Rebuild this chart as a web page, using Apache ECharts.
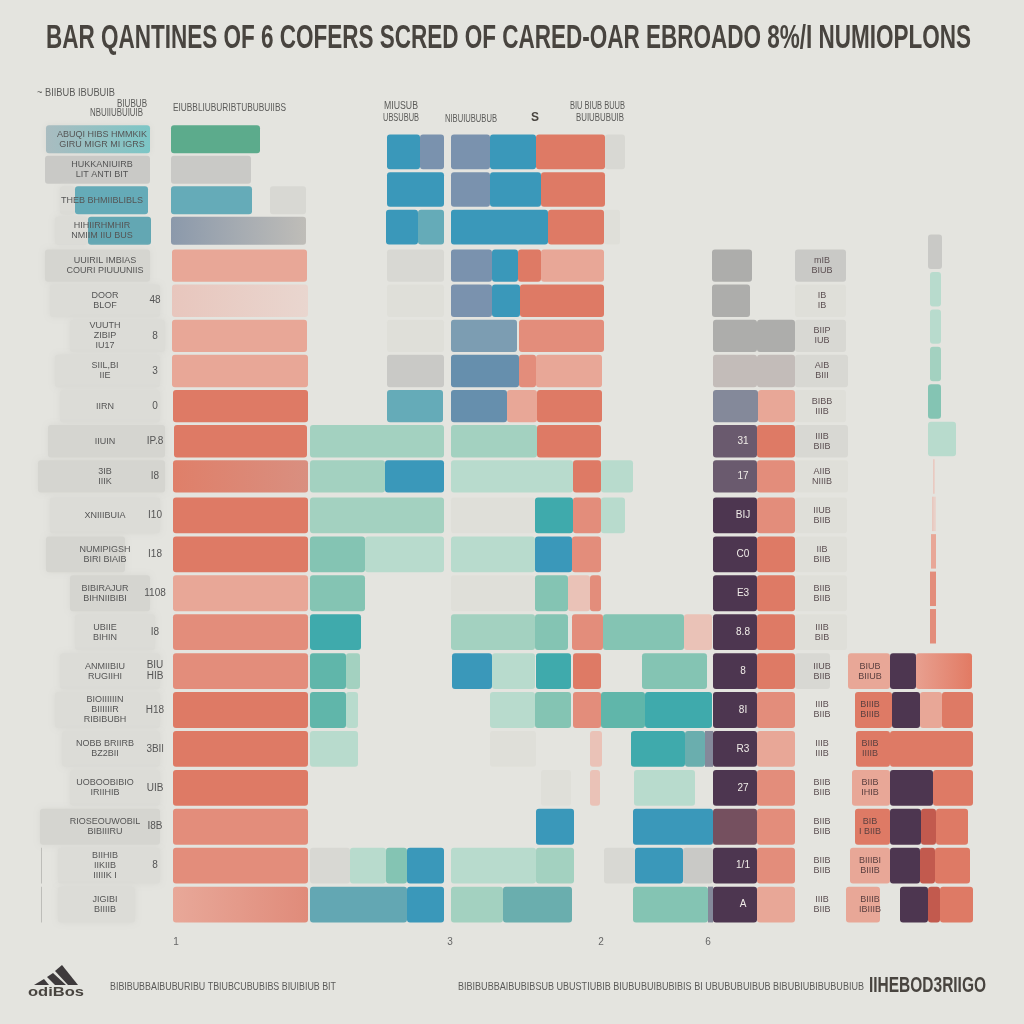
<!DOCTYPE html>
<html>
<head>
<meta charset="utf-8">
<style>
  html, body { margin: 0; padding: 0; background: #e4e4df; }
  #chart { width: 1024px; height: 1024px; }
</style>
<script src="https://cdn.jsdelivr.net/npm/echarts@6/dist/echarts.min.js"></script>
</head>
<body>
<div id="chart"></div>
<script>
const topLeftRows = [
  [[46, 150, 'blobTeal'], [171, 260, 'green']],
  [[45, 150, 'grey'], [171, 251, 'grey']],
  [[60, 75, 'blobFaint'], [75, 148, 'tealSoft'], [171, 252, 'tealSoft'], [270, 306, 'greyPale']],
  [[55, 88, 'blobFaint'], [88, 151, 'tealDull'], [171, 306, 'slateGrey']]
]
const topRightRows = [
  [[387, 420, 'blue'], [420, 444, 'slate'], [451, 490, 'slate'], [490, 536, 'blue'], [536, 605, 'coral'], [605, 625, 'greyPale']],
  [[387, 444, 'blue'], [451, 490, 'slate'], [490, 541, 'blue'], [541, 605, 'coral']],
  [[386, 418, 'blue'], [418, 444, 'tealSoft'], [451, 548, 'blue'], [548, 604, 'coral'], [604, 620, 'greyFaint']]
]
const midRows = [
  [[45, 150, 'blob'], [172, 307, 'coralLight'], [387, 444, 'greyPale'], [451, 492, 'slate'], [492, 518, 'blue'], [518, 541, 'coral'], [541, 604, 'coralLight'], [712, 752, 'greyDark'], [795, 846, 'grey']],
  [[50, 160, 'blobFaint'], [172, 308, 'pinkFade'], [387, 444, 'greyFaint'], [451, 492, 'slate'], [492, 520, 'blue'], [520, 604, 'coral'], [712, 750, 'greyDark'], [795, 846, 'greyFaint']],
  [[70, 165, 'blobFaint'], [172, 307, 'coralLight'], [387, 444, 'greyFaint'], [451, 517, 'slateLight'], [519, 604, 'coralMid'], [713, 757, 'greyDark'], [757, 795, 'greyDark'], [795, 846, 'greyPale']],
  [[55, 160, 'blobFaint'], [172, 308, 'coralLight'], [387, 444, 'grey'], [451, 519, 'slateDark'], [519, 536, 'coralMid'], [536, 602, 'coralLight'], [713, 757, 'greyWarm'], [757, 795, 'greyWarm'], [795, 848, 'greyPale']],
  [[60, 160, 'blobFaint'], [173, 308, 'coral'], [387, 443, 'tealSoft'], [451, 507, 'slateDark'], [507, 537, 'coralLight'], [537, 602, 'coral'], [713, 758, 'slateGrey2'], [758, 795, 'coralLight'], [795, 846, 'greyFaint']],
  [[48, 165, 'blob'], [174, 307, 'coral'], [310, 444, 'mint'], [451, 537, 'mint'], [537, 601, 'coral'], [713, 757, 'purpleMid'], [757, 795, 'coral'], [795, 848, 'greyPale']],
  [[38, 165, 'blob'], [173, 308, 'coralFade'], [310, 385, 'mint'], [385, 444, 'blue'], [451, 573, 'mintPale'], [573, 601, 'coral'], [601, 633, 'mintPale'], [713, 757, 'purpleMid'], [757, 795, 'coralMid'], [795, 848, 'greyFaint']]
]
const lowRows = [
  [[50, 160, 'blobFaint'], [173, 308, 'coral'], [310, 444, 'mint'], [451, 535, 'greyFaint'], [535, 573, 'teal'], [573, 601, 'coralMid'], [601, 625, 'mintPale'], [713, 757, 'purple'], [757, 795, 'coralMid'], [795, 847, 'greyFaint']],
  [[46, 125, 'blob'], [173, 308, 'coral'], [310, 365, 'mintMid'], [365, 444, 'mintPale'], [451, 535, 'mintPale'], [535, 572, 'blue'], [572, 601, 'coralMid'], [713, 757, 'purple'], [757, 795, 'coral'], [795, 847, 'greyFaint']],
  [[70, 150, 'blob'], [173, 308, 'coralLight'], [310, 365, 'mintMid'], [451, 535, 'greyFaint'], [535, 568, 'mintMid'], [568, 590, 'coralPale'], [590, 601, 'coralMid'], [713, 757, 'purple'], [757, 795, 'coral'], [795, 847, 'greyFaint']],
  [[75, 155, 'blobFaint'], [173, 308, 'coralMid'], [310, 361, 'teal'], [451, 535, 'mint'], [535, 568, 'mintMid'], [572, 603, 'coralMid'], [603, 684, 'mintMid'], [684, 712, 'coralPale'], [713, 757, 'purple'], [757, 795, 'coral'], [795, 847, 'greyFaint']],
  [[60, 160, 'blobFaint'], [173, 308, 'coralMid'], [310, 346, 'tealMid'], [346, 360, 'mint'], [452, 492, 'blue'], [492, 535, 'mintPale'], [536, 571, 'teal'], [573, 601, 'coral'], [642, 707, 'mintMid'], [713, 757, 'purple'], [757, 795, 'coral'], [795, 830, 'greyPale'], [848, 890, 'coralLight'], [890, 916, 'purple'], [916, 972, 'coralFade2']],
  [[55, 160, 'blobFaint'], [173, 308, 'coral'], [310, 346, 'tealMid'], [346, 358, 'mintPale'], [490, 535, 'mintPale'], [535, 571, 'mintMid'], [573, 601, 'coralMid'], [601, 645, 'tealMid'], [645, 712, 'teal'], [713, 757, 'purple'], [757, 795, 'coralMid'], [855, 892, 'coral'], [892, 920, 'purple'], [920, 942, 'coralLight'], [942, 973, 'coral']],
  [[62, 160, 'blobFaint'], [173, 308, 'coral'], [310, 358, 'mintPale'], [490, 536, 'greyFaint'], [590, 602, 'coralPale'], [631, 685, 'teal'], [685, 705, 'tealGrey'], [705, 713, 'slateGrey2'], [713, 757, 'purple'], [757, 795, 'coralLight'], [856, 890, 'coral'], [890, 973, 'coral']],
  [[70, 160, 'blobFaint'], [173, 308, 'coral'], [541, 571, 'greyFaint'], [590, 600, 'coralPale'], [634, 695, 'mintPale'], [713, 757, 'purple'], [757, 795, 'coralMid'], [852, 890, 'coralLight'], [890, 933, 'purple'], [933, 973, 'coral']],
  [[40, 160, 'blob'], [173, 308, 'coralMid'], [536, 574, 'blue'], [633, 713, 'blue'], [713, 757, 'purpleFade'], [757, 795, 'coralMid'], [855, 890, 'coral'], [890, 921, 'purple'], [921, 936, 'brick'], [936, 968, 'coral']],
  [[41, 42, 'rule'], [58, 160, 'blobFaint'], [173, 308, 'coralMid'], [310, 350, 'greyPale'], [350, 386, 'mintPale'], [386, 407, 'mintMid'], [407, 444, 'blue'], [451, 536, 'mintPale'], [536, 574, 'mint'], [604, 635, 'greyPale'], [635, 683, 'blue'], [683, 713, 'grey'], [713, 757, 'purple'], [757, 795, 'coralMid'], [850, 890, 'coralLight'], [890, 920, 'purple'], [920, 935, 'brick'], [935, 970, 'coral']],
  [[41, 42, 'rule'], [58, 135, 'blobFaint'], [173, 308, 'coralFade3'], [310, 407, 'tealDull'], [407, 444, 'blue'], [451, 503, 'mint'], [503, 572, 'tealGrey'], [633, 708, 'mintMid'], [708, 713, 'slateGrey2'], [713, 757, 'purple'], [757, 795, 'coralLight'], [846, 880, 'coralLight'], [900, 928, 'purple'], [928, 940, 'brick'], [940, 973, 'coral']]
]
const sideRows = [
  [[928, 942, 'grey']],
  [[930, 941, 'mintPale']],
  [[930, 941, 'mintPale']],
  [[930, 941, 'mint']],
  [[928, 941, 'mintMid']],
  [[928, 956, 'mintPale']],
  [[933, 935, 'pinkFade']],
  [[932, 936, 'pinkFade']],
  [[931, 936, 'coralLight']],
  [[930, 936, 'coralMid']],
  [[930, 936, 'coralMid']]
]

// row texts
const topLeftLabels = ['ABUQI HIBS HMMKIK\nGIRU MIGR MI IGRS', 'HUKKANIUIRB\nLIT ANTI BIT', 'THEB BHMIIBLIBLS', 'HIHIIRHMHIR\nNMIIM IIU BUS']
const midLabels = ['UUIRIL IMBIAS\nCOURI PIUUUNIIS', 'DOOR\nBLOF', 'VUUTH\nZIBIP\nIU17', 'SIIL,BI\nIIE', 'IIRN', 'IIUIN', '3IB\nIIIK']
const lowLabels = ['XNIIIBUIA', 'NUMIPIGSH\nBIRI BIAIB', 'BIBIRAJUR\nBIHNIIBIBI', 'UBIIE\nBIHIN', 'ANMIIBIU\nRUGIIHI', 'BIOIIIIIIN\nBIIIIIIR\nRIBIBUBH', 'NOBB BRIIRB\nBZ2BII', 'UOBOOBIBIO\nIRIIHIB', 'RIOSEOUWOBIL\nBIBIIIRU', 'BIIHIB\nIIKIIB\nIIIIIK I', 'JIGIBI\nBIIIIB']
const midCodes = ['', '48', '8', '3', '0', 'IP.8', 'I8']
const lowCodes = ['I10', 'I18', '1108', 'I8', 'BIU\nHIB', 'H18', '3BIl', 'UIB', 'I8B', '8', '']
const midPurple = ['', '', '', '', '', '31', '17']
const lowPurple = ['BIJ', 'C0', 'E3', '8.8', '8', '8I', 'R3', '27', '', '1/1', 'A']
const midGrey = ['mIB\nBIUB', 'IB\nIB', 'BIIP\nIUB', 'AIB\nBIII', 'BIBB\nIIIB', 'IIIB\nBIIB', 'AIIB\nNIIIB']
const lowGrey = ['IIUB\nBIIB', 'IIB\nBIIB', 'BIIB\nBIIB', 'IIIB\nBIB', 'IIUB\nBIIB', 'IIIB\nBIIB', 'IIIB\nIIIB', 'BIIB\nBIIB', 'BIIB\nBIIB', 'BIIB\nBIIB', 'IIIB\nBIIB']
const lowCoral = ['', '', '', '', 'BIUB\nBIIUB', 'BIIIB\nBIIIB', 'BIIB\nIIIIB', 'BIIB\nIHIB', 'BIB\nI BIIB', 'BIIIBI\nBIIIB', 'BIIIB\nIBIIIB']

const tickValues = [176, 450, 601, 708]
const tickLabels = ['1', '3', '2', '6']

// text, left edge, middle line, wanted width, font size, bold
const notes = [
  ['BAR QANTINES OF 6 COFERS SCRED OF CARED-OAR EBROADO 8%/I NUMIOPLONS', 46, 39, 925, 34, true],
  ['~ BIIBUB IBUBUIB', 37, 93, 78, 10, false],
  ['BIUBUB', 117, 104, 30, 10, false],
  ['NBUIIUBUIUIB', 90, 113, 53, 10, false],
  ['EIUBBLIUBURIBTUBUBUIIBS', 173, 108, 113, 10, false],
  ['MIUSUB', 384, 106, 34, 10, false],
  ['UBSUBUB', 383, 118, 36, 10, false],
  ['NIBUIUBUBUB', 445, 119, 52, 10, false],
  ['S', 531, 117, 8, 13, true],
  ['BIU BIUB BUUB', 570, 106, 55, 10, false],
  ['BUIUBUBUIB', 576, 118, 48, 10, false],
  ['BIBIBUBBAIBUBURIBU TBIUBCUBUBIBS BIUIBIUB BIT', 110, 987, 226, 10, false],
  ['BIBIBUBBAIBUBIBSUB UBUSTIUBIB BIUBUBUIBUBIBIS BI UBUBUBUIBUB BIBUBIUBIBUBUBIUB', 458, 987, 406, 10, false],
  ['IIHEBOD3RIIGO', 869, 986, 117, 22, true],
  ['odiBos', 28, 992, 56, 13, true]
]

// one colour, or two for a soft left to right fade
const tones = {
  coral: '#de7a65', coralMid: '#e38d7b', coralLight: '#e8a797', coralPale: '#eac2b7',
  coralFade: ['#df7f69', '#d98f80'], coralFade2: ['#e8a090', '#e27a63'], coralFade3: ['#e8a899', '#e08b7a'],
  pinkFade: ['#e8c6bd', '#e9d6cf'], brick: '#c25a4e',
  blue: '#3a98ba', slate: '#7a92ae', slateLight: '#7c9db2', slateDark: '#668fad',
  slateGrey: ['#8b99ab', '#bfbdb8'], slateGrey2: '#84899a',
  teal: '#3faaac', tealMid: '#60b6aa', tealSoft: '#65abb8', tealDull: '#63a7b3', tealGrey: '#6aaeae',
  mint: '#a3d1c0', mintPale: '#b8dbcd', mintMid: '#84c4b3', green: '#5cab8c',
  grey: '#c9c9c6', greyPale: '#d8d8d3', greyFaint: '#dfdfd9', greyDark: '#adadab', greyWarm: '#c3bcb9',
  purple: '#4d3650', purpleMid: '#6a5a6e', purpleFade: '#75505f',
  blob: '#d5d5d0', blobFaint: '#dcdcd7', blobTeal: ['#a9bcc0', '#7cc6c6'], rule: '#bdbdb9'
}

const FONT = 'Liberation Sans'

const panels = [
  {top: 124, height: 122, rows: topLeftRows, texts: [{data: topLeftLabels, x: 102, size: 9}]},
  {top: 133, height: 113, rows: topRightRows, texts: []},
  {top: 248, height: 246, rows: midRows, texts: [
    {data: midLabels, x: 105, size: 9}, {data: midCodes, x: 155, size: 10},
    {data: midPurple, x: 743, size: 10, color: '#f0ece8'}, {data: midGrey, x: 822, size: 9, color: '#5c4f52'}
  ]},
  {top: 496, height: 428, rows: lowRows, ticks: true, texts: [
    {data: lowLabels, x: 105, size: 9}, {data: lowCodes, x: 155, size: 10},
    {data: lowPurple, x: 743, size: 10, color: '#f0ece8'}, {data: lowGrey, x: 822, size: 9, color: '#5c4f52'},
    {data: lowCoral, x: 870, size: 9, color: '#5c4040'}
  ]},
  {top: 233, height: 412, rows: sideRows, texts: []}
]

function fill(tone) {
  let c = tones[tone]
  if (Array.isArray(c)) {
    return new echarts.graphic.LinearGradient(0, 0, 1, 0, [{offset: 0, color: c[0]}, {offset: 1, color: c[1]}])
  }
  return c
}

let grids = [], xAxes = [], yAxes = [], series = []

panels.forEach((p, i) => {
  grids.push({left: 0, right: 0, top: p.top, height: p.height, outerBoundsMode: 'none'})
  xAxes.push({
    gridIndex: i, type: 'value', min: 0, max: 1024, show: !!p.ticks,
    splitLine: {show: false}, axisLine: {show: false}, axisTick: {show: false},
    axisLabel: {
      show: !!p.ticks, customValues: tickValues, margin: 13, fontSize: 10,
      fontFamily: FONT, color: '#666',
      formatter: v => tickLabels[tickValues.indexOf(v)]
    }
  })
  // first y axis carries the bars
  let yIndex = yAxes.length
  let names = p.rows.map((r, n) => 'row' + n)
  yAxes.push({gridIndex: i, type: 'category', inverse: true, data: names, show: false})
  // the others only put a text column on the rows
  p.texts.forEach(t => {
    yAxes.push({
      gridIndex: i, type: 'category', inverse: true, data: t.data, position: 'left', offset: -t.x, z: 5,
      axisLine: {show: false}, axisTick: {show: false},
      axisLabel: {
        interval: 0, margin: 0, align: 'center', fontSize: t.size, lineHeight: t.size + 1,
        fontFamily: FONT, color: t.color || '#555'
      }
    })
  })
  // spans become stacked pairs of an empty gap and a coloured piece
  let most = Math.max(...p.rows.map(r => r.length))
  for (let k = 0; k < most; k++) {
    let gap = p.rows.map(r => {
      if (!r[k]) return 0
      return r[k][0] - (k > 0 ? r[k - 1][1] : 0)
    })
    let piece = p.rows.map(r => {
      if (!r[k]) return 0
      let blur = r[k][2].indexOf('blob') === 0
      return {
        value: r[k][1] - r[k][0],
        itemStyle: {
          color: fill(r[k][2]), borderRadius: r[k][1] - r[k][0] > 8 ? 3 : 0,
          shadowBlur: blur ? 6 : 0, shadowColor: blur ? '#d8d8d3' : 'transparent'
        }
      }
    })
    let common = {type: 'bar', stack: 'p' + i, xAxisIndex: i, yAxisIndex: yIndex, barWidth: '92%', silent: true}
    series.push(Object.assign({}, common, {data: gap, itemStyle: {color: 'transparent'}}))
    series.push(Object.assign({}, common, {data: piece}))
  }
})

// no narrow font here, so squeeze each text to the width it has in the picture
const measure = document.createElement('canvas').getContext('2d')
function noteText(n) {
  let font = (n[5] ? 'bold ' : '') + n[4] + 'px "' + FONT + '"'
  measure.font = font
  return {
    type: 'text', x: n[1], y: n[2], scaleX: n[3] / measure.measureText(n[0]).width,
    style: {text: n[0], font: font, fill: n[5] ? '#48443f' : '#5a5a58', verticalAlign: 'middle'}
  }
}

let option = {
  backgroundColor: '#e4e4df',
  animation: false,
  // texts and the logo stripes
  graphic: notes.map(noteText).concat([
    {type: 'polygon', shape: {points: [[34, 985], [44, 979], [49, 985]]}, style: {fill: '#3e3a3c'}},
    {type: 'polygon', shape: {points: [[47, 977], [53, 973], [66, 985], [55, 985]]}, style: {fill: '#3e3a3c'}},
    {type: 'polygon', shape: {points: [[55, 971], [62, 965], [78, 985], [68, 985]]}, style: {fill: '#3e3a3c'}}
  ]),
  grid: grids,
  xAxis: xAxes,
  yAxis: yAxes,
  series: series
}

let chart = echarts.init(document.getElementById('chart'))
chart.setOption(option)
</script>
</body>
</html>
